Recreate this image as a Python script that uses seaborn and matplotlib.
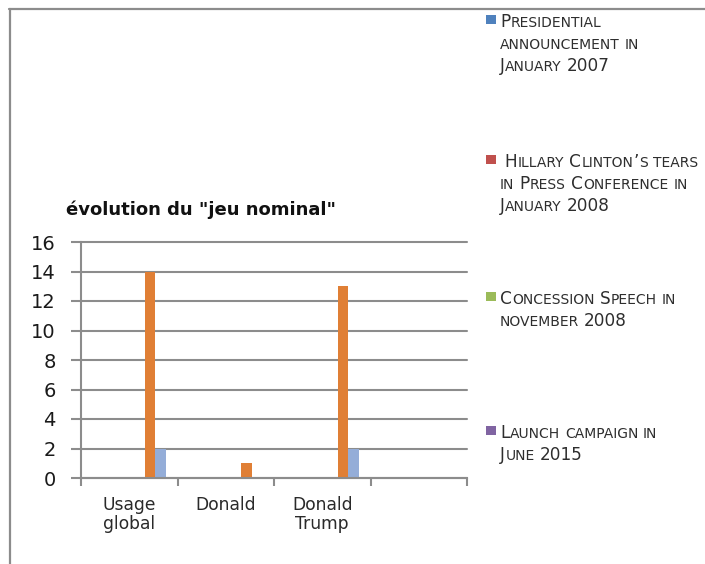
import matplotlib
matplotlib.use("Agg")
import matplotlib.pyplot as plt
from matplotlib.lines import Line2D
from matplotlib.patches import Rectangle
import seaborn as sns
import pandas as pd

# ---- data -------------------------------------------------------------
categories = ["Usage global", "Donald", "Donald Trump", ""]
tick_labels = ["Usage\nglobal", "Donald", "Donald\nTrump", ""]

series_names = [
    "Presidential\nannouncement in\nJanuary 2007",
    " Hillary Clinton\u2019s tears\nin Press Conference in\nJanuary 2008",
    "Concession Speech in\nnovember 2008",
    "Launch campaign in\nJune 2015",
    "Série 5",
    "Série 6",
    "Série 7",
]
values_presidential = [0, 0, 0, 0]
values_tears = [0, 0, 0, 0]
values_concession = [0, 0, 0, 0]
values_launch = [0, 0, 0, 0]
values_serie5 = [0, 0, 0, 0]
values_serie6 = [14, 1, 13, 0]
values_serie7 = [2, 0, 2, 0]

series_colors = ["#4F81BD", "#C0504D", "#9BBB59", "#8064A2",
                 "#4BACC6", "#E07F35", "#94ADD8"]
legend_count = 4

y_ticks = [0, 2, 4, 6, 8, 10, 12, 14, 16]
title = "évolution du \"jeu nominal\""

all_values = [values_presidential, values_tears, values_concession,
              values_launch, values_serie5, values_serie6, values_serie7]
rows = []
for name, vals in zip(series_names, all_values):
    for cat, v in zip(categories, vals):
        rows.append({"cat": cat, "series": name, "value": v})
df = pd.DataFrame(rows)

# ---- figure -----------------------------------------------------------
W, H = 705, 564
sns.set_theme(style="white")
plt.rcParams["font.family"] = ["DejaVu Sans"]
fig = plt.figure(figsize=(W / 100, H / 100), dpi=100)
fig.patch.set_facecolor("white")

grid_gray = "#8C8C8C"
text_color = "#2E2E2E"

def px(x, y):
    """pixel position (from top-left) -> figure fraction"""
    return x / W, 1 - y / H

# outer frame (top and left edges)
fig.add_artist(Line2D([px(9, 9)[0], 1.0], [px(9, 9)[1]] * 2,
                      color=grid_gray, lw=1.6, transform=fig.transFigure))
fig.add_artist(Line2D([px(10, 9)[0]] * 2, [px(10, 9)[1], 0.0],
                      color=grid_gray, lw=1.6, transform=fig.transFigure))

left, right = 81 / W, 467 / W
bottom, top = 1 - 478 / H, 1 - 242 / H
ax = fig.add_axes([left, bottom, right - left, top - bottom])

sns.barplot(data=df, x="cat", y="value", hue="series",
            order=categories, hue_order=series_names,
            palette=series_colors, saturation=1, width=0.761,
            linewidth=0, legend=False, errorbar=None, ax=ax)

ax.set_xlim(-0.5, len(categories) - 0.5)
ax.set_ylim(0, 16)
ax.set_yticks(y_ticks)
ax.set_yticklabels([str(t) for t in y_ticks], fontsize=14, color="#1A1A1A")
ax.set_xticks(range(len(categories)))
ax.set_xticklabels(tick_labels, fontsize=12.3, color="#2A2A2A", linespacing=1.1)
ax.set_xticks([i - 0.5 for i in range(len(categories) + 1)], minor=True)
ax.tick_params(axis="x", which="major", bottom=True, length=0, pad=13)
ax.tick_params(axis="x", which="minor", bottom=True, length=6, width=1.5,
               color=grid_gray, direction="out")
ax.tick_params(axis="y", which="major", left=True, length=7.2, width=1.5,
               color=grid_gray, direction="out", pad=11)
ax.set_xlabel("")
ax.set_ylabel("")

ax.yaxis.grid(True, color=grid_gray, lw=1.5)
ax.xaxis.grid(False)
ax.set_axisbelow(True)
for gl in ax.get_ygridlines():
    gl.set_clip_on(False)
for side in ["top", "right"]:
    ax.spines[side].set_visible(False)
for side in ["left", "bottom"]:
    ax.spines[side].set_color(grid_gray)
    ax.spines[side].set_linewidth(1.5)

# chart title
fig.text(*px(66, 215), title, fontsize=13, fontweight="bold",
         color="#111111", ha="left", va="baseline")

# ---- legend in small capitals -----------------------------------------
renderer = fig.canvas.get_renderer()
BIG, SMALL = 12.2, 10.0
space_w = 0.318 * SMALL * 100 / 72

def smallcaps_line(x, y, line):
    runs = []
    for ch in line:
        kind = "space" if ch == " " else ("small" if ch.islower() else "big")
        if runs and runs[-1][0] == kind:
            runs[-1][1] += ch
        else:
            runs.append([kind, ch])
    for kind, s in runs:
        if kind == "space":
            x += len(s) * space_w
            continue
        size = SMALL if kind == "small" else BIG
        t = fig.text(*px(x, y), s.upper(), fontsize=size, color=text_color,
                     ha="left", va="baseline")
        x += t.get_window_extent(renderer=renderer).width + 0.5

entry_baselines = [27, 167, 304, 438]
line_step = 22
for name, color, base in zip(series_names[:legend_count],
                             series_colors[:legend_count], entry_baselines):
    fig.add_artist(Rectangle(px(486, base - 3), 9.5 / W, 9.5 / H,
                             transform=fig.transFigure, color=color, lw=0))
    for i, line in enumerate(name.split("\n")):
        smallcaps_line(500, base + i * line_step, line)

fig.savefig("out.png", dpi=100, facecolor="white")
